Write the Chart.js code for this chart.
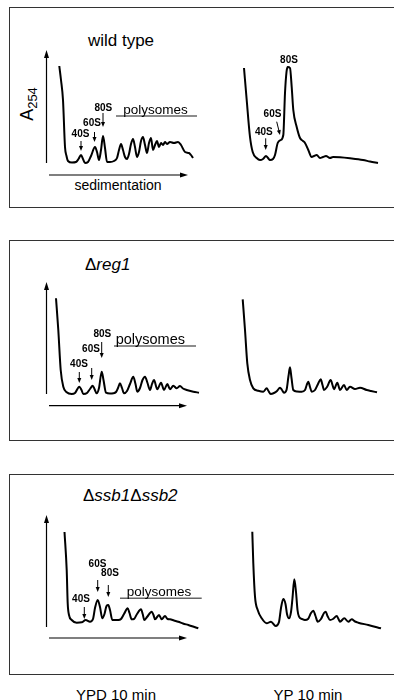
<!DOCTYPE html>
<html>
<head>
<meta charset="utf-8">
<script src="https://cdn.jsdelivr.net/npm/chart.js@4/dist/chart.umd.min.js"></script>
<style>
  body { margin: 0; width: 394px; height: 700px; overflow: hidden; background: #fff;
         font-family: "Liberation Sans", Arial, sans-serif; color: #000; position: relative; }
  .panel { position: absolute; left: 9px; width: 400px; height: 199px; border: 1.3px solid #333; }
  .txt { position: absolute; white-space: nowrap; line-height: 1; transform: translate(-50%, -50%); }
  .lab { position: absolute; white-space: nowrap; line-height: 1; transform: translateY(-50%); font-size: 17px; }
  canvas { position: absolute; }
  sub { font-size: 13px; vertical-align: -4px; }
</style>
</head>
<body>
<div class="panel" style="top:7px"></div>
<div class="panel" style="top:240px"></div>
<div class="panel" style="top:474px"></div>

<div class="txt" style="left:121px;top:40px;font-size:17px">wild type</div>
<div class="txt" style="left:28px;top:104px;font-size:18px;transform:translate(-50%,-50%) rotate(-90deg)">A<sub>254</sub></div>
<div class="txt" style="left:118px;top:185px;font-size:14px">sedimentation</div>
<div class="lab" style="left:85px;top:264px">&Delta;<i>reg1</i></div>
<div class="lab" style="left:83px;top:495px">&Delta;<i>ssb1</i>&Delta;<i>ssb2</i></div>
<div class="txt" style="left:116px;top:694px;font-size:15px">YPD 10 min</div>
<div class="txt" style="left:308px;top:694px;font-size:15px">YP 10 min</div>

<canvas id="wtYpd" width="215" height="200" style="left:0;top:7px"></canvas>
<canvas id="wtYp" width="184" height="200" style="left:210px;top:7px"></canvas>
<canvas id="regYpd" width="215" height="200" style="left:0;top:240px"></canvas>
<canvas id="regYp" width="184" height="200" style="left:210px;top:240px"></canvas>
<canvas id="ssbYpd" width="215" height="200" style="left:0;top:474px"></canvas>
<canvas id="ssbYp" width="184" height="200" style="left:210px;top:474px"></canvas>

<script>
"use strict";
// A254 profiles: x = position along gradient, y = absorbance (arbitrary units)
var wtYpdX = [12.8, 14.5, 16.5, 18.5, 20, 21.5, 25.5, 29.5, 32, 34.5, 36.5, 38.5, 41.5, 44.5, 48.5, 50.5, 52.5, 54.5, 56.5, 58.5, 60.5, 63.5, 67.5, 70.5, 72.5, 74.5, 76.5, 78.5, 80.5, 82.5, 84.5, 86.5, 88.5, 90.5, 92.5, 94.5, 96.5, 98.5, 100.5, 102.5, 104.5, 106.5, 108.5, 110.5, 112.5, 114.5, 116.5, 118.5, 120.5, 123.5, 127.5, 131.5, 134.5, 138.5, 142.5, 144.5, 146.5];
var wtYpdY = [98, 84, 64, 17, 8, 3, 1.5, 2, 5, 9, 5, 1, 2, 8, 17, 12, 4, 14, 28, 16, 2, 2, 3, 6, 14, 20, 14, 7, 5, 10, 20, 25, 17, 7, 12, 23, 27, 19, 11, 21, 26, 14, 19, 23, 17, 21, 19, 22, 20, 22, 21, 22, 19, 12, 11, 9, 6];

var wtYpX = [4, 6.7, 10, 12.7, 16.7, 20, 23, 26, 28, 30, 33, 35, 37.7, 40.7, 43.3, 45, 46.5, 47.7, 50, 51.7, 53.3, 56.7, 60, 63, 65, 68.3, 71.7, 74, 76.7, 80, 83, 86, 90, 93, 100, 110, 123, 130, 138];
var wtYpY = [96, 64, 27, 12, 6, 4, 5, 8, 6, 4, 5, 9, 21, 24, 29, 71, 92, 97, 96, 77, 54, 37, 26, 23, 21, 14, 7, 8, 9, 6, 7, 8, 6, 7, 6.7, 5.7, 4, 2.5, 1];

var regYpdX = [9.5, 11.8, 14.2, 16.8, 20.2, 25.2, 28.5, 32.8, 35, 36.8, 40.5, 43.5, 46.2, 48, 50.2, 52.5, 55.2, 57, 59.5, 63.5, 66.8, 69.5, 71.5, 73.5, 75.5, 77.5, 80.5, 83.5, 86.8, 89, 90.8, 93.5, 96, 98.5, 101, 103.5, 105.5, 107.5, 110.8, 114.5, 117.5, 120.8, 123.5, 126.8, 130.2, 133.5, 136.5, 140.2, 146.8, 152.5];
var regYpdY = [96.7, 65, 25, 8.3, 2.7, 1, 2, 8.3, 5, 1, 2, 6, 9.3, 6, 1.7, 7, 23.3, 15, 2.3, 1.5, 1.7, 3, 7, 11.7, 7, 1.7, 4, 11, 18.3, 11, 3.3, 7, 15, 18.3, 12, 5, 11, 15, 5.7, 12.3, 5, 11, 5.7, 9.3, 6.7, 9, 6.5, 5, 3.3, 2.3];

var regYpX = [2.7, 5, 7.3, 10, 13.3, 18.3, 23.3, 26.7, 28.5, 30.7, 34, 37, 40, 42, 44, 46.5, 48.5, 50, 51.5, 53.3, 57, 61.7, 65, 66.7, 68.3, 70, 71.7, 75, 78, 80.7, 82.5, 84, 87, 90.7, 92.5, 94, 97.3, 100, 104, 106.7, 110, 115, 120, 126.7, 131, 137];
var regYpY = [95.7, 65, 31.7, 15, 6.7, 4.3, 3.3, 6.7, 4, 1, 2, 4, 7.3, 5, 2.3, 5, 19, 27.7, 17, 5, 3.5, 3.3, 5, 10, 13.3, 8, 3.3, 5, 11, 15.7, 10, 5, 8, 15, 10, 5.7, 12.3, 5, 10, 5, 8.3, 6, 7.3, 5, 4, 2.7];

var ssbYpdX = [18, 20.2, 21.2, 22.5, 25.2, 30.2, 35.2, 39.2, 43.5, 46.5, 48.5, 51.2, 53.5, 55.8, 58, 60, 61.8, 63.5, 65.8, 68.5, 71.8, 74.5, 77.5, 81.2, 83, 85.2, 87.5, 90.5, 94.5, 96.2, 97.8, 100.5, 105.2, 107, 108.5, 112.5, 115.2, 118.5, 121, 123.5, 127.5, 131.8, 136.5, 141.8, 146.5, 151.8];
var ssbYpdY = [98, 60, 26.7, 15, 10, 7.3, 7.7, 10, 8.3, 11, 22, 30, 23, 11.7, 16, 24, 25, 20, 10, 10, 10, 11, 16, 21.7, 17, 10.7, 11, 16, 20.7, 16, 10, 13, 18.3, 15, 10.7, 15, 10.7, 14, 11, 10.7, 9.5, 8.3, 6.5, 5, 3.5, 1.7];

var ssbYpX = [12.3, 13.3, 15, 17.7, 21.7, 26.7, 31, 35.7, 39, 41, 43.3, 45.5, 47, 49, 51, 52.5, 54.3, 56, 57.5, 59, 62, 65, 68, 71, 73.3, 75.5, 77.7, 81, 84, 85.7, 87.5, 90, 93, 96.7, 98.5, 100, 104.3, 108.3, 111.7, 115, 118.3, 128.3, 141];
var ssbYpY = [98.3, 66.7, 33.3, 20, 11.7, 6.7, 8.3, 4, 8, 22, 31, 26, 16, 11.7, 18, 32, 50.7, 38, 20, 13.3, 11, 10, 11, 17, 19.3, 14, 8.3, 11, 17, 18.3, 14, 10, 11, 14, 11, 8.3, 11.7, 8.3, 10.7, 8.5, 7.3, 5, 1.7];

// helpers for the arrows
function head(ctx, tx, ty, dx, dy, len, half) {
  var n = Math.sqrt(dx * dx + dy * dy);
  dx /= n; dy /= n;
  var bx = tx - dx * len, by = ty - dy * len;
  ctx.beginPath();
  ctx.moveTo(tx, ty);
  ctx.lineTo(bx - dy * half, by + dx * half);
  ctx.lineTo(bx + dy * half, by - dx * half);
  ctx.closePath();
  ctx.fill();
}
function arrow(ctx, x1, y1, x2, y2, len, half) {
  var dx = x2 - x1, dy = y2 - y1, n = Math.sqrt(dx * dx + dy * dy);
  ctx.beginPath();
  ctx.moveTo(x1, y1);
  ctx.lineTo(x2 - dx / n * (len - 1), y2 - dy / n * (len - 1));
  ctx.stroke();
  head(ctx, x2, y2, dx, dy, len, half);
}

// draws axis arrows, peak labels and the polysome bar from the chart scales
var markPlugin = {
  id: "marks",
  afterDatasetsDraw: function (chart, args, o) {
    var ctx = chart.ctx, sx = chart.scales.x, sy = chart.scales.y, a = chart.chartArea;
    ctx.save();
    ctx.strokeStyle = "#000";
    ctx.fillStyle = "#000";
    if (o.axes) {
      ctx.lineWidth = 1.2;
      arrow(ctx, a.left, sy.getPixelForValue(o.axes.y0), a.left, sy.getPixelForValue(o.axes.y1), 8, 2.5);
      var ya = a.bottom + o.axes.off;
      arrow(ctx, sx.getPixelForValue(o.axes.x0), ya, sx.getPixelForValue(o.axes.x1), ya, 8, 2.5);
    }
    ctx.lineWidth = 1;
    (o.arrows || []).forEach(function (r) {
      arrow(ctx, sx.getPixelForValue(r[0]), sy.getPixelForValue(r[1]),
            sx.getPixelForValue(r[2]), sy.getPixelForValue(r[3]), 5, 2);
    });
    ctx.font = "bold 10px 'Liberation Sans', Arial";
    ctx.textAlign = "center";
    ctx.textBaseline = "middle";
    (o.labels || []).forEach(function (l) {
      ctx.fillText(l[0], sx.getPixelForValue(l[1]), sy.getPixelForValue(l[2]));
    });
    if (o.poly) {
      var p = o.poly;
      ctx.strokeStyle = "#666";
      ctx.lineWidth = 1.5;
      ctx.beginPath();
      ctx.moveTo(sx.getPixelForValue(p.x0), sy.getPixelForValue(p.y));
      ctx.lineTo(sx.getPixelForValue(p.x1), sy.getPixelForValue(p.y));
      ctx.stroke();
      ctx.font = p.size + "px 'Liberation Sans', Arial";
      ctx.fillText("polysomes", sx.getPixelForValue(p.tx), sy.getPixelForValue(p.ty) + 1);
    }
    ctx.restore();
  }
};

function profile(id, xs, ys, xmax, pad, marks) {
  var pts = xs.map(function (x, i) { return { x: x, y: ys[i] }; });
  return new Chart(document.getElementById(id), {
    type: "line",
    data: {
      datasets: [{
        data: pts,
        borderColor: "#000",
        borderWidth: 2,
        pointRadius: 0,
        cubicInterpolationMode: "monotone",
        fill: false,
        clip: false
      }]
    },
    options: {
      responsive: false,
      animation: false,
      events: [],
      layout: { padding: pad },
      scales: {
        x: { type: "linear", display: false, min: 0, max: xmax },
        y: { display: false, min: 0, max: 120 }
      },
      plugins: { legend: { display: false }, tooltip: { enabled: false }, marks: marks }
    },
    plugins: [markPlugin]
  });
}

// wild type
profile("wtYpd", wtYpdX, wtYpdY, 160, { left: 46.5, right: 8.5, top: 37, bottom: 43 }, {
  axes: { y0: 1, y1: 114, off: 11, x0: 2.5, x1: 141.5 },
  labels: [["80S", 56.8, 56], ["60S", 45.5, 41], ["40S", 34, 30]],
  arrows: [[56.5, 51, 56.5, 37], [48, 32, 48, 22], [34.5, 23, 34.5, 13]],
  poly: { x0: 69.5, x1: 150.5, y: 48, tx: 109, ty: 54.5, size: 13.5 }
});
profile("wtYp", wtYpX, wtYpY, 150, { left: 30, right: 4, top: 37, bottom: 43 }, {
  labels: [["80S", 49, 103.7], ["60S", 32.5, 50], ["40S", 23.8, 32]],
  arrows: [[36.7, 42.3, 40, 29], [25.7, 25.7, 25.7, 14]]
});

// reg1 deletion
profile("regYpd", regYpdX, regYpdY, 160, { left: 46.5, right: 8.5, top: 35, bottom: 45 }, {
  axes: { y0: 1, y1: 113, off: 10.7, x0: 2.5, x1: 140.5 },
  labels: [["80S", 55.8, 60.5], ["60S", 44.5, 45.5], ["40S", 32.5, 30.5]],
  arrows: [[55.2, 53, 55.2, 37], [45.2, 27, 45.2, 15], [32.8, 23, 32.8, 12]],
  poly: { x0: 67.5, x1: 149.5, y: 49, tx: 103.8, ty: 56, size: 14.5 }
});
profile("regYp", regYpX, regYpY, 150, { left: 30, right: 4, top: 35, bottom: 45 }, {});

// ssb1 ssb2 double deletion
profile("ssbYpd", ssbYpdX, ssbYpdY, 160, { left: 46.5, right: 8.5, top: 36, bottom: 44 }, {
  axes: { y0: 3, y1: 115, off: 8, x0: 2.5, x1: 140.5 },
  labels: [["60S", 51, 66.2], ["80S", 63.5, 57], ["40S", 34.5, 30.3]],
  arrows: [[51.2, 50, 51.2, 38], [61.8, 45, 61.8, 33], [37.8, 23, 37.8, 11]],
  poly: { x0: 73.5, x1: 155.2, y: 31.7, tx: 112.5, ty: 38.3, size: 13.5 }
});
profile("ssbYp", ssbYpX, ssbYpY, 150, { left: 30, right: 4, top: 36, bottom: 44 }, {});
</script>
</body>
</html>
